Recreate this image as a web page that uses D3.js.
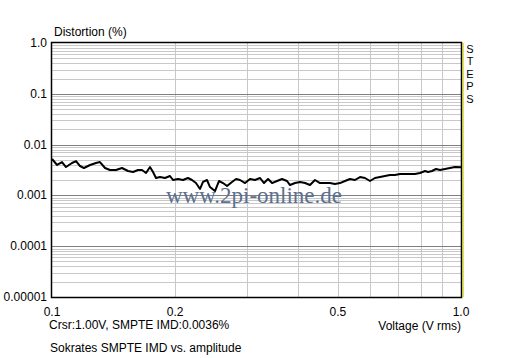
<!DOCTYPE html>
<html><head><meta charset="utf-8">
<script src="https://cdn.jsdelivr.net/npm/d3@7"></script>
<style>body{margin:0;background:#fff}svg{display:block}text{font-family:"Liberation Sans",Arial,sans-serif}</style>
</head><body>
<svg id="c" width="512" height="358"></svg>
<script>
const voltage = [0.100,0.1029,0.1058,0.1082,0.1119,0.1145,0.1171,0.1197,0.1239,0.1281,0.1310,0.1348,0.1386,0.1434,0.1483,0.1534,0.1578,0.1623,0.1660,0.1698,0.1736,0.1766,0.1796,0.1837,0.1889,0.1943,0.1976,0.2033,0.2091,0.2150,0.2199,0.2249,0.2301,0.2340,0.2393,0.2434,0.2503,0.2560,0.2619,0.2679,0.2755,0.2818,0.2882,0.2965,0.3049,0.3135,0.3226,0.3299,0.3375,0.3452,0.3550,0.3651,0.3755,0.3819,0.3928,0.4041,0.4156,0.4274,0.4395,0.4521,0.4650,0.4782,0.4918,0.5060,0.5204,0.5352,0.5504,0.5663,0.5824,0.5990,0.6160,0.6339,0.6519,0.6705,0.6895,0.7094,0.7296,0.7504,0.7717,0.7940,0.8166,0.8305,0.8494,0.8688,0.8886,0.9140,0.9400,0.9668,1.0];
const imd = [0.00521,0.00397,0.00454,0.00362,0.00434,0.00475,0.00379,0.00346,0.00397,0.00434,0.00454,0.00346,0.00316,0.00316,0.00346,0.00302,0.00289,0.00316,0.00316,0.00276,0.00362,0.00289,0.00220,0.00230,0.00220,0.00241,0.00201,0.00210,0.00201,0.00220,0.00201,0.00175,0.00134,0.00184,0.00201,0.00146,0.00122,0.00192,0.00175,0.00153,0.00184,0.00210,0.00201,0.00175,0.00210,0.00201,0.00220,0.00175,0.00210,0.00175,0.00192,0.00210,0.00192,0.00160,0.00175,0.00184,0.00175,0.00160,0.00201,0.00175,0.00175,0.00175,0.00168,0.00175,0.00192,0.00210,0.00201,0.00230,0.00220,0.00192,0.00220,0.00230,0.00241,0.00252,0.00252,0.00264,0.00264,0.00264,0.00264,0.00276,0.00302,0.00289,0.00302,0.00331,0.00316,0.00331,0.00346,0.00362,0.0036];
const xTicks = [0.1,0.2,0.5,1.0];
const xTickLabels = ["0.1","0.2","0.5","1.0"];
const yTicks = [1,0.1,0.01,0.001,0.0001,0.00001];
const yTickLabels = ["1.0","0.1","0.01","0.001","0.0001","0.00001"];
const title = "Distortion (%)";
const xTitle = "Voltage (V rms)";
const cursorText = "Crsr:1.00V, SMPTE IMD:0.0036%";
const footer = "Sokrates SMPTE IMD vs. amplitude";
const sideLetters = ["S","T","E","P","S"];
const watermark = "www.2pi-online.de";

const svg = d3.select("#c");
const L=52,R=461,T=43,B=297;
const x = d3.scaleLog().domain([0.1,1]).range([L,R]);
const y = d3.scaleLog().domain([0.00001,1]).range([B,T]);

const g = svg.append("g");
for(let d=-5; d<0; d++){
  for(let m=2;m<=9;m++){
    const v=m*Math.pow(10,d);
    g.append("line").attr("x1",L).attr("x2",R).attr("y1",Math.round(y(v))+0.5).attr("y2",Math.round(y(v))+0.5).attr("stroke","#c8c8c8");
  }
}
for(let m=2;m<=9;m++){
  const v=m/10;
  g.append("line").attr("y1",T).attr("y2",B).attr("x1",Math.round(x(v))+0.5).attr("x2",Math.round(x(v))+0.5).attr("stroke","#c8c8c8");
}
yTicks.slice(1,-1).forEach(v=>{
  g.append("line").attr("x1",L).attr("x2",R).attr("y1",Math.round(y(v))+0.5).attr("y2",Math.round(y(v))+0.5).attr("stroke","#808080");
});

svg.append("text").attr("x",254).attr("y",203).attr("text-anchor","middle")
  .style("font-family","'Liberation Serif','DejaVu Serif',serif")
  .attr("font-size",23).attr("fill","#5b7090").text(watermark);

const line = d3.line().x((d,i)=>x(voltage[i])).y(d=>y(d));
svg.append("path").datum(imd).attr("d",line).attr("fill","none").attr("stroke","#000").attr("stroke-width",2).attr("stroke-linejoin","round");

svg.append("rect").attr("x",L-0.5).attr("y",T-0.5).attr("width",R-L+1).attr("height",B-T+1).attr("fill","none").attr("stroke","#000").attr("stroke-width",1.5);
svg.append("line").attr("x1",R+2).attr("x2",R+2).attr("y1",T).attr("y2",B).attr("stroke","#c8c800").attr("stroke-width",1.2);

svg.append("g").selectAll("text").data(yTicks).join("text")
  .attr("x",47).attr("y",d=>y(d)+4).attr("text-anchor","end").attr("font-size",12).attr("fill","#000")
  .text((d,i)=>yTickLabels[i]);
svg.append("g").selectAll("text").data(xTicks).join("text")
  .attr("x",d=>x(d)).attr("y",316).attr("text-anchor","middle").attr("font-size",12).attr("fill","#000")
  .text((d,i)=>xTickLabels[i]);

svg.append("text").attr("x",54).attr("y",36).attr("font-size",12).text(title);
svg.append("text").attr("x",461).attr("y",330).attr("text-anchor","end").attr("font-size",12).text(xTitle);
svg.append("text").attr("x",49).attr("y",329).attr("font-size",12).text(cursorText);
svg.append("text").attr("x",50).attr("y",352).attr("font-size",12).text(footer);
svg.append("g").selectAll("text").data(sideLetters).join("text")
  .attr("x",470).attr("y",(d,i)=>53+i*12.4).attr("text-anchor","middle").attr("font-size",11).text(d=>d);
</script>
</body></html>
